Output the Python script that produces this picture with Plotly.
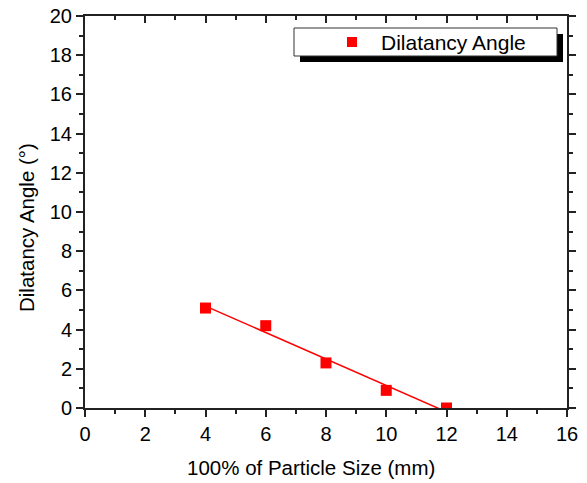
import numpy as np
import plotly.graph_objects as go

# Data
particle_size = [4, 6, 8, 10, 12]
dilatancy_angle = [5.1, 4.2, 2.3, 0.9, 0.0]
series_name = "Dilatancy Angle"
x_title = "100% of Particle Size (mm)"
y_title = "Dilatancy Angle (°)"

# Linear fit
slope, intercept = np.polyfit(particle_size, dilatancy_angle, 1)
fit_x = [min(particle_size), max(particle_size)]
fit_y = [slope * v + intercept for v in fit_x]

FONT = "Liberation Sans, Arial, sans-serif"
AX = "#222222"

fig = go.Figure()
fig.add_trace(go.Scatter(x=fit_x, y=fit_y, mode="lines",
                         line=dict(color="#ff0000", width=1.5),
                         showlegend=False, hoverinfo="skip"))
fig.add_trace(go.Scatter(x=particle_size, y=dilatancy_angle, mode="markers",
                         name=series_name,
                         marker=dict(symbol="square", size=11, color="#ff0000"),
                         showlegend=False, cliponaxis=True))

axis_common = dict(showgrid=False, zeroline=False, showline=True, automargin=False,
                   linecolor=AX, linewidth=2, tickcolor=AX, tickwidth=1.5,
                   ticklen=7)

fig.update_layout(
    template="none",
    width=587, height=483,
    margin=dict(l=85, r=20, t=16, b=75, autoexpand=False),
    plot_bgcolor="white", paper_bgcolor="white",
    font=dict(family=FONT, size=20, color="black"),
    xaxis=dict(range=[0, 16], dtick=2, tick0=0, ticks="outside",
               minor=dict(dtick=1, ticks="outside", ticklen=4, tickcolor=AX, tickwidth=1.5),
               tickfont=dict(size=20), **axis_common),
    yaxis=dict(range=[0, 20], dtick=2, tick0=0, ticks="outside",
               minor=dict(dtick=1, ticks="outside", ticklen=4, tickcolor=AX, tickwidth=1.5),
               tickfont=dict(size=20), **axis_common),
    xaxis2=dict(range=[0, 16], dtick=2, tick0=0, overlaying="x", side="top",
                matches="x", ticks="inside", showticklabels=False,
                minor=dict(dtick=1, ticks="inside", ticklen=4, tickcolor=AX, tickwidth=1.5),
                **axis_common),
    yaxis2=dict(range=[0, 20], dtick=2, tick0=0, overlaying="y", side="right",
                matches="y", ticks="outside", showticklabels=False,
                minor=dict(dtick=1, ticks="outside", ticklen=4, tickcolor=AX, tickwidth=1.5),
                **axis_common),
)
# invisible trace to activate secondary axes
fig.add_trace(go.Scatter(x=[None], y=[None], xaxis="x2", yaxis="y2",
                         showlegend=False, hoverinfo="skip"))

# paper-coordinate helpers
W, H = 587, 483
L, R, T, B = 85, 20, 16, 75
pw, ph = W - L - R, H - T - B
def px(x):
    return (x - L) / pw
def py(y):
    return 1 - (y - T) / ph

# Axis titles
fig.add_annotation(xref="paper", yref="paper", x=px(311), y=py(467),
                   xanchor="center", yanchor="middle", showarrow=False,
                   text=x_title, font=dict(size=20.5, family=FONT, color="black"))
fig.add_annotation(xref="paper", yref="paper", x=px(26), y=py(228),
                   xanchor="center", yanchor="middle", showarrow=False, textangle=-90,
                   text=y_title, font=dict(size=20.5, family=FONT, color="black"))

# Legend box (Origin style with shadow)
fig.add_shape(type="rect", xref="paper", yref="paper", layer="above",
              x0=px(300), x1=px(563), y0=py(34), y1=py(62),
              fillcolor="black", line=dict(width=0))
fig.add_shape(type="rect", xref="paper", yref="paper", layer="above",
              x0=px(294), x1=px(557), y0=py(28), y1=py(56),
              fillcolor="white", line=dict(color="#333333", width=1))
fig.add_shape(type="rect", xref="paper", yref="paper", layer="above",
              x0=px(347), x1=px(357), y0=py(37), y1=py(47),
              fillcolor="#ff0000", line=dict(width=0))
fig.add_annotation(xref="paper", yref="paper", x=px(379), y=py(42),
                   xanchor="left", yanchor="middle", showarrow=False,
                   text=series_name, font=dict(size=21, family=FONT, color="black"))

fig.write_html("out.html")
